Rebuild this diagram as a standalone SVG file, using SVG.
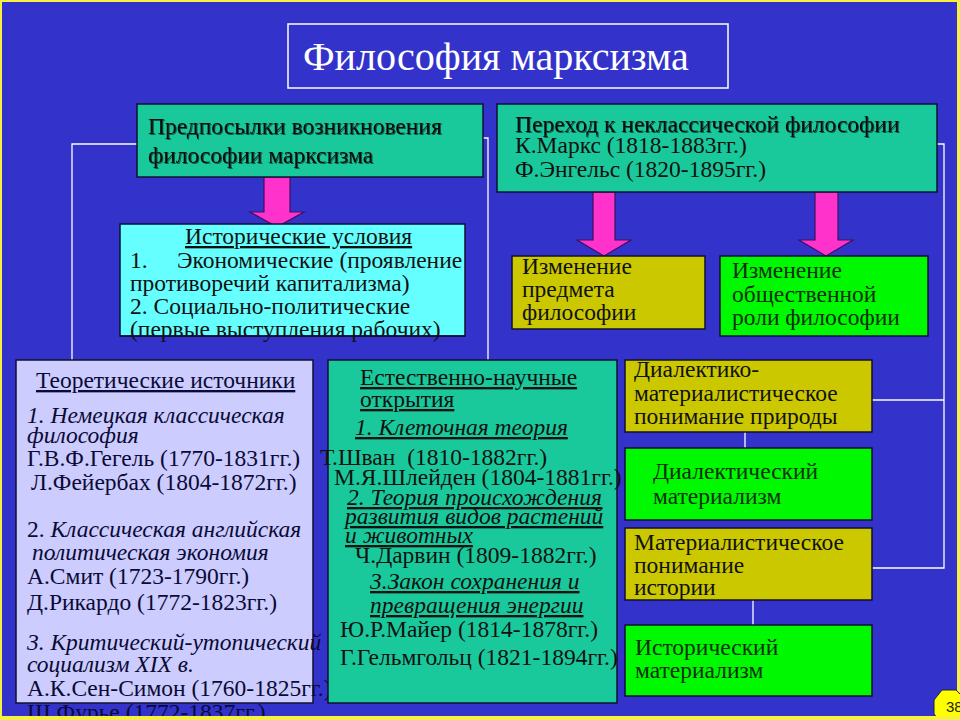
<svg xmlns="http://www.w3.org/2000/svg" width="960" height="720" viewBox="0 0 960 720">
<defs>
<style>
.t{font-family:"Liberation Serif","Times New Roman",serif;font-size:23.5px;fill:#111}
.sh{filter:url(#sh)}
.u{text-decoration:underline}
.i{font-style:italic}
.box{stroke:#101030;stroke-width:1.5}
.teal{fill:#19C99B}
.cyan{fill:#66FFFF}
.olive{fill:#CCC800}
.green{fill:#00F800}
.lav{fill:#CCCCFF}
.arr{fill:#FF33CC;stroke:#401060;stroke-width:1.2}
.ln{fill:none;stroke:#ffffff;stroke-width:1.3}
.dg{fill:#0a300a}
.nv{fill:#0a0a35}
</style>
<filter id="sh" x="-5%" y="-20%" width="110%" height="140%">
<feDropShadow dx="1" dy="1" stdDeviation="0.6" flood-color="#000" flood-opacity="0.55"/>
</filter>
</defs>
<rect width="960" height="720" fill="#F8F040"/>
<rect x="2" y="2" width="955" height="714" fill="#3333CC"/>

<g id="connectors">
<polyline class="ln" points="137,144 72,144 72,360"/>
<polyline class="ln" points="483,138 488,138 488,360"/>
<polyline class="ln" points="937,144 944,144 944,568 872,568"/>
<line class="ln" x1="872" y1="400" x2="944" y2="400"/>
<line class="ln" x1="745" y1="432" x2="745" y2="448"/>
<line class="ln" x1="753" y1="600" x2="753" y2="625"/>
<polygon class="arr" points="264,177 290,177 290,212 304,212 277,227 250,212 264,212"/>
<polygon class="arr" points="593,192 615,192 615,240 631,240 604,256 577,240 593,240"/>
<polygon class="arr" points="815,192 838,192 838,240 853,240 826,256 799,240 815,240"/>
</g>

<g id="title">
<rect x="288" y="24" width="440" height="64" fill="none" stroke="#ffffff" stroke-width="1.5"/>
<text x="303" y="70" style="font-family:'Liberation Serif','Times New Roman',serif;font-size:40px;fill:#ffffff">Философия марксизма</text>
</g>

<g id="prerequisites">
<rect class="box teal" x="137" y="104" width="346" height="73"/>
<text class="t sh" x="148" y="134">Предпосылки возникновения</text>
<text class="t sh" x="148" y="163">философии марксизма</text>
</g>

<g id="transition">
<rect class="box teal" x="497" y="104" width="440" height="88"/>
<text class="t sh" x="515" y="132">Переход к неклассической философии</text>
<text class="t" x="515" y="153">К.Маркс (1818-1883гг.)</text>
<text class="t" x="515" y="177">Ф.Энгельс (1820-1895гг.)</text>
</g>

<g id="historical-conditions">
<rect class="box cyan" x="120" y="224" width="345" height="112"/>
<text class="t u" x="185" y="244">Исторические условия</text>
<text class="t" x="130" y="268" xml:space="preserve">1.     Экономические (проявление</text>
<text class="t" x="130" y="291">противоречий капитализма)</text>
<text class="t" x="130" y="314">2. Социально-политические</text>
<text class="t" x="130" y="337">(первые выступления рабочих)</text>
<line x1="120" y1="336" x2="465" y2="336" stroke="#101030" stroke-width="1.5"/>
</g>

<g id="subject-change">
<rect class="box olive" x="512" y="256" width="193" height="73"/>
<text class="t" x="522" y="274">Изменение</text>
<text class="t" x="522" y="297">предмета</text>
<text class="t" x="522" y="320">философии</text>
</g>

<g id="role-change">
<rect class="box green" x="720" y="256" width="208" height="80"/>
<text class="t dg" x="732" y="278">Изменение</text>
<text class="t dg" x="732" y="302">общественной</text>
<text class="t dg" x="732" y="325">роли философии</text>
</g>

<g id="theoretical-sources">
<rect class="box lav" x="16" y="360" width="297" height="343"/>
<text class="t nv u" x="36" y="388">Теоретические источники</text>
<text class="t nv i" x="27" y="423">1. Немецкая классическая</text>
<text class="t nv i" x="27" y="443">философия</text>
<text class="t nv" x="27" y="466">Г.В.Ф.Гегель (1770-1831гг.)</text>
<text class="t nv" x="31" y="490">Л.Фейербах (1804-1872гг.)</text>
<text class="t nv" x="27" y="537">2. <tspan class="i">Классическая английская</tspan></text>
<text class="t nv i" x="32" y="560">политическая экономия</text>
<text class="t nv" x="27" y="584">А.Смит (1723-1790гг.)</text>
<text class="t nv" x="27" y="610">Д.Рикардо (1772-1823гг.)</text>
<text class="t nv i" x="27" y="650">3. Критический-утопический</text>
<text class="t nv i" x="27" y="672">социализм XIX в.</text>
<text class="t nv" x="27" y="696">А.К.Сен-Симон (1760-1825гг.)</text>
<text class="t nv" x="27" y="720">Ш.Фурье (1772-1837гг.)</text>
</g>

<g id="natural-science">
<rect class="box teal" x="328" y="360" width="289" height="343"/>
<text class="t u" x="360" y="385">Естественно-научные</text>
<text class="t u" x="360" y="407">открытия</text>
<text class="t i u" x="355" y="435">1. Клеточная теория</text>
<text class="t" x="320" y="465" xml:space="preserve">Т.Шван  (1810-1882гг.)</text>
<text class="t" x="334" y="485">М.Я.Шлейден (1804-1881гг.)</text>
<text class="t i u" x="347" y="505">2. Теория происхождения</text>
<text class="t i u" x="345" y="524">развития видов растений</text>
<text class="t i u" x="345" y="543">и животных</text>
<text class="t" x="355" y="563">Ч.Дарвин (1809-1882гг.)</text>
<text class="t i u" x="370" y="589">3.Закон сохранения и</text>
<text class="t i u" x="370" y="613">превращения энергии</text>
<text class="t" x="340" y="637">Ю.Р.Майер (1814-1878гг.)</text>
<text class="t" x="340" y="665">Г.Гельмгольц (1821-1894гг.)</text>
</g>

<g id="nature-understanding">
<rect class="box olive" x="625" y="360" width="247" height="72"/>
<text class="t" x="634" y="377">Диалектико-</text>
<text class="t" x="634" y="401">материалистическое</text>
<text class="t" x="634" y="424">понимание природы</text>
</g>

<g id="dialectical-materialism">
<rect class="box green" x="625" y="448" width="247" height="72"/>
<text class="t dg" x="653" y="479">Диалектический</text>
<text class="t dg" x="653" y="504">материализм</text>
</g>

<g id="history-understanding">
<rect class="box olive" x="625" y="528" width="247" height="72"/>
<text class="t" x="634" y="550">Материалистическое</text>
<text class="t" x="634" y="573">понимание</text>
<text class="t" x="634" y="595">истории</text>
</g>

<g id="historical-materialism">
<rect class="box green" x="625" y="625" width="247" height="71"/>
<text class="t dg" x="635" y="655">Исторический</text>
<text class="t dg" x="635" y="678">материализм</text>
</g>

<g id="page-number">
<polygon points="942,690 956,690 966,700 966,714 956,724 942,724 934,714 934,700" fill="#FFFF00" stroke="#202040" stroke-width="1"/>
<text x="946" y="712" style="font-family:'Liberation Sans',Arial,sans-serif;font-size:15px;fill:#222">38</text>
</g>
<rect x="0" y="716" width="960" height="4" fill="#F8F040"/>
</svg>
